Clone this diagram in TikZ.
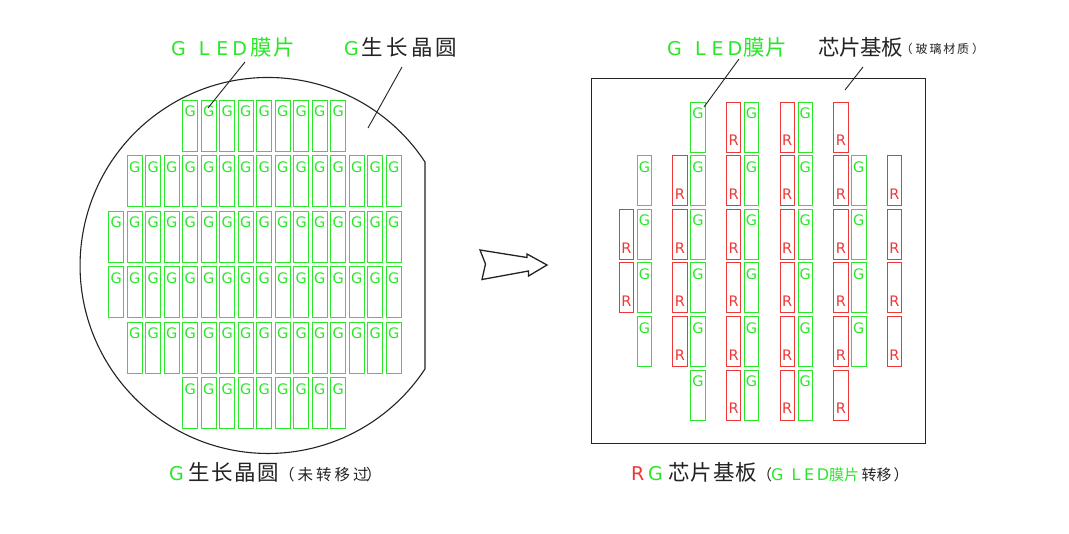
\documentclass[tikz,border=0pt]{standalone}
\usepackage{fontspec}
\newfontfamily\cjkn{Noto Sans CJK SC}
\newfontfamily\cadn{DejaVu Sans}
\newcommand\cjkbig{\cjkn\fontsize{21.5}{23}\selectfont}
\newcommand\cjksmall{\cjkn\fontsize{15.5}{17}\selectfont}
\newcommand\cjksm{\cjkn\fontsize{15}{17}\selectfont}
\newcommand\cjktiny{\cjkn\fontsize{12}{13}\selectfont}
\newcommand\latinbig{\cadn\fontsize{19}{20}\selectfont}
\newcommand\latinsm{\cadn\fontsize{16}{17}\selectfont}
\newcommand\cb[2]{\makebox[#1pt][l]{#2}}
\definecolor{lg}{RGB}{40,232,40}
\definecolor{lr}{RGB}{238,55,55}
\definecolor{ink}{RGB}{35,35,35}
\begin{document}
\begin{tikzpicture}[x=1pt,y=-1pt,
  chipbase/.style={line width=0.9pt, inner sep=0pt, anchor=north west, fill=none},
  gchip/.style={chipbase, draw=lg, minimum width=15pt, minimum height=51pt},
  rgchip/.style={chipbase, draw=lg, minimum width=14.5pt, minimum height=50pt},
  rrchip/.style={chipbase, draw=lr, minimum width=14.5pt, minimum height=50pt},
  glab/.style={font=\cadn\fontsize{14.5}{15}\selectfont, text=lg, anchor=north, yshift=-6pt, inner sep=0pt},
  rlab/.style={font=\cadn\fontsize{14.5}{15}\selectfont, text=lr, anchor=south, yshift=6.5pt, inner sep=0pt},
  leader/.style={draw=ink, line width=0.9pt},
  txt/.style={anchor=base west, inner sep=0pt}]
\fill[white] (0,0) rectangle (1069,534);
\useasboundingbox (0,0) rectangle (1069,534);

% wafer
\draw[draw=ink, line width=1.1pt] (425,162) arc[start angle=-33.4, end angle=-326.6, radius=188] -- cycle;

% left chips
\foreach \r/\a/\b in {0/4/12,1/1/15,2/0/15,3/0/15,4/1/15,5/4/12}{
  \foreach \k in {\a,...,\b}{
    \node[gchip, label={[glab]north:G}] (lg-\r-\k) at ({108.3+18.5*\k},{100+55.5*\r}) {};
  }
}

% board
\node[draw=ink, line width=1.4pt, inner sep=0pt, anchor=north west, minimum width=334pt, minimum height=365pt] (board) at (591,78) {};

% right chips
\foreach \r/\ga/\gb/\ra/\rb in {0/1/3/2/4,1/0/4/1/5,2/0/4/0/5,3/0/4/0/5,4/0/4/1/5,5/1/3/2/4}{
  \foreach \k in {\ga,...,\gb}{
    \node[rgchip, label={[glab]north:G}] (rg-\r-\k) at ({636.7+53.6*\k},{101.7+53.6*\r}) {};
  }
  \foreach \k in {\ra,...,\rb}{
    \node[rrchip, label={[rlab]south:R}] (rr-\r-\k) at ({618.7+53.6*\k},{101.7+53.6*\r}) {};
  }
}

% arrow
\draw[draw=ink, line width=1.3pt, line join=miter] (480,250) -- (527,257.5) -- (527,254) -- (547,265) -- (528.5,276) -- (528.5,271) -- (482,279.5) -- (485.5,264) -- cycle;

% labels
\node[txt] (t1) at (171,56) {\color{lg}\latinbig\cb{27.8}{G}\cb{17.3}{L}\cb{16}{E}\cb{18.4}{D}\cjkbig\cb{23}{膜}片};
\node[txt] (t2) at (344,56) {{\color{lg}\latinbig\cb{17.5}{G}}{\color{ink}\cjkbig\cb{24.7}{生}\cb{24.7}{长}\cb{24.7}{晶}圆}};
\node[txt] (t3) at (667,56) {\color{lg}\latinbig\cb{28}{G}\cb{16.5}{L}\cb{16}{E}\cb{16}{D}\cjkbig\cb{22}{膜}片};
\node[txt] (t4) at (818,56) {\color{ink}\cjkbig\cb{21}{芯}\cb{21}{片}\cb{21}{基}\cb{19.4}{板}\raisebox{2.5pt}{\cjktiny\cb{15.1}{（}\cb{13.8}{玻}\cb{13.8}{璃}\cb{13.8}{材}\cb{15}{质}）}};
\node[txt] (b1) at (169,481) {{\color{lg}\latinbig\cb{19}{G}}{\color{ink}\cjkbig\cb{23}{生}\cb{23}{长}\cb{23}{晶}\cb{22}{圆}\cjksmall\cb{18.5}{（}\cb{18.5}{未}\cb{18.5}{转}\cb{18.5}{移}\cb{13}{过}）}};
\node[txt] (b2) at (631,481) {{\color{lr}\latinbig\cb{17}{R}}{\color{lg}\latinbig\cb{20}{G}}{\color{ink}\cjkbig\cb{22.6}{芯}\cb{22.6}{片}\cb{22.6}{基}\cb{21.2}{板}\cjksm\cb{14}{（}}{\color{lg}\latinsm\cb{20.4}{G}\cb{12.6}{L}\cb{12.6}{E}\cb{12.3}{D}\cjksm\cb{15}{膜}\cb{17.6}{片}}{\color{ink}\cjksm\cb{15}{转}\cb{17}{移}）}};

% leader lines
\coordinate (p1a) at (245,62); \coordinate (p1b) at (208,108);
\coordinate (p2a) at (402,67); \coordinate (p2b) at (368,128);
\coordinate (p3a) at (739,59); \coordinate (p3b) at (704,107);
\coordinate (p4a) at (863,67); \coordinate (p4b) at (845,90);
\draw[leader] (p1a) -- (p1b);
\draw[leader] (p2a) -- (p2b);
\draw[leader] (p3a) -- (p3b);
\draw[leader] (p4a) -- (p4b);
\end{tikzpicture}
\end{document}
